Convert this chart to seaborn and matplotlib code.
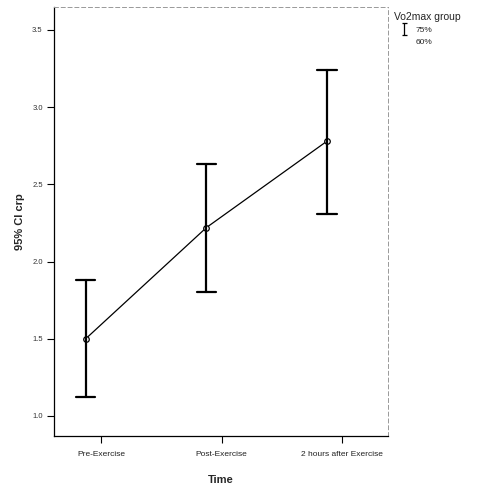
import numpy as np
import pandas as pd
import matplotlib
matplotlib.use("Agg")
import matplotlib.pyplot as plt
from matplotlib.lines import Line2D
from matplotlib.path import Path
import seaborn as sns

# Data
times = ["Pre-Exercise", "Post-Exercise", "2 hours after Exercise"]
means = [1.50, 2.22, 2.78]
lower = [1.12, 1.80, 2.31]
upper = [1.88, 2.63, 3.24]
groups = ["75%", "60%"]
yticks = [1.0, 1.5, 2.0, 2.5, 3.0, 3.5]

sns.set_theme(style="white")
plt.rcParams["font.family"] = ["Liberation Sans", "DejaVu Sans"]

rows = []
for t, m, lo, hi in zip(times, means, lower, upper):
    for v in (lo, m, hi):
        rows.append({"Time": t, "crp": v, "Vo2max group": groups[0]})
df = pd.DataFrame(rows)

fig = plt.figure(figsize=(4.85, 4.86), dpi=100)
ax = fig.add_axes([0.111, 0.103, 0.689, 0.883])

sns.pointplot(data=df, x="Time", y="crp", hue="Vo2max group",
              hue_order=groups, order=times,
              estimator="median", errorbar=lambda x: (x.min(), x.max()),
              dodge=0.25, palette=["black", "black"], markers="o",
              linewidth=0.9, markersize=4, markerfacecolor="white",
              markeredgewidth=0.9, capsize=0.16,
              err_kws={"linewidth": 1.6}, legend=False, ax=ax)

ax.set_xlim(-0.39, 2.38)
ax.set_ylim(0.87, 3.65)
ax.set_yticks(yticks)
ax.set_yticklabels([f"{v:.1f}" for v in yticks], fontsize=5.5, color="#333333")
ax.set_xticks(range(len(times)))
ax.set_xticklabels(times, fontsize=6, color="#222222")
ax.tick_params(axis="y", direction="out", length=5, width=0.8, color="black",
               left=True, pad=3)
ax.tick_params(axis="x", direction="out", length=5, width=0.8, color="black",
               bottom=True, pad=6)
ax.set_xlabel("Time", fontsize=8, fontweight="bold", labelpad=12)
ax.set_ylabel("95% CI crp", fontsize=8, fontweight="bold", labelpad=5)

for s in ("left", "bottom"):
    ax.spines[s].set_color("black")
    ax.spines[s].set_linewidth(0.9)
for s in ("top", "right"):
    ax.spines[s].set_color("#999999")
    ax.spines[s].set_linewidth(0.7)
    ax.spines[s].set_linestyle((0, (4, 3)))

ibeam = Path([(-0.4, 1), (0.4, 1), (0, 1), (0, -1), (-0.4, -1), (0.4, -1)],
             [Path.MOVETO, Path.LINETO, Path.MOVETO, Path.LINETO, Path.MOVETO, Path.LINETO])
handles = [Line2D([0], [0], marker=ibeam, color="black", linestyle="none",
                  markersize=9, markeredgewidth=0.9, markerfacecolor="none"),
           Line2D([0], [0], color="none", linestyle="none")]
leg = fig.legend(handles, groups, title="Vo2max group", loc="upper left",
                 bbox_to_anchor=(0.805, 0.983), frameon=False, fontsize=6,
                 title_fontsize=7.5, handlelength=2.4, handletextpad=0.2,
                 labelspacing=0.55, borderaxespad=0)
leg._legend_box.align = "left"

fig.savefig("out.png", dpi=100)
